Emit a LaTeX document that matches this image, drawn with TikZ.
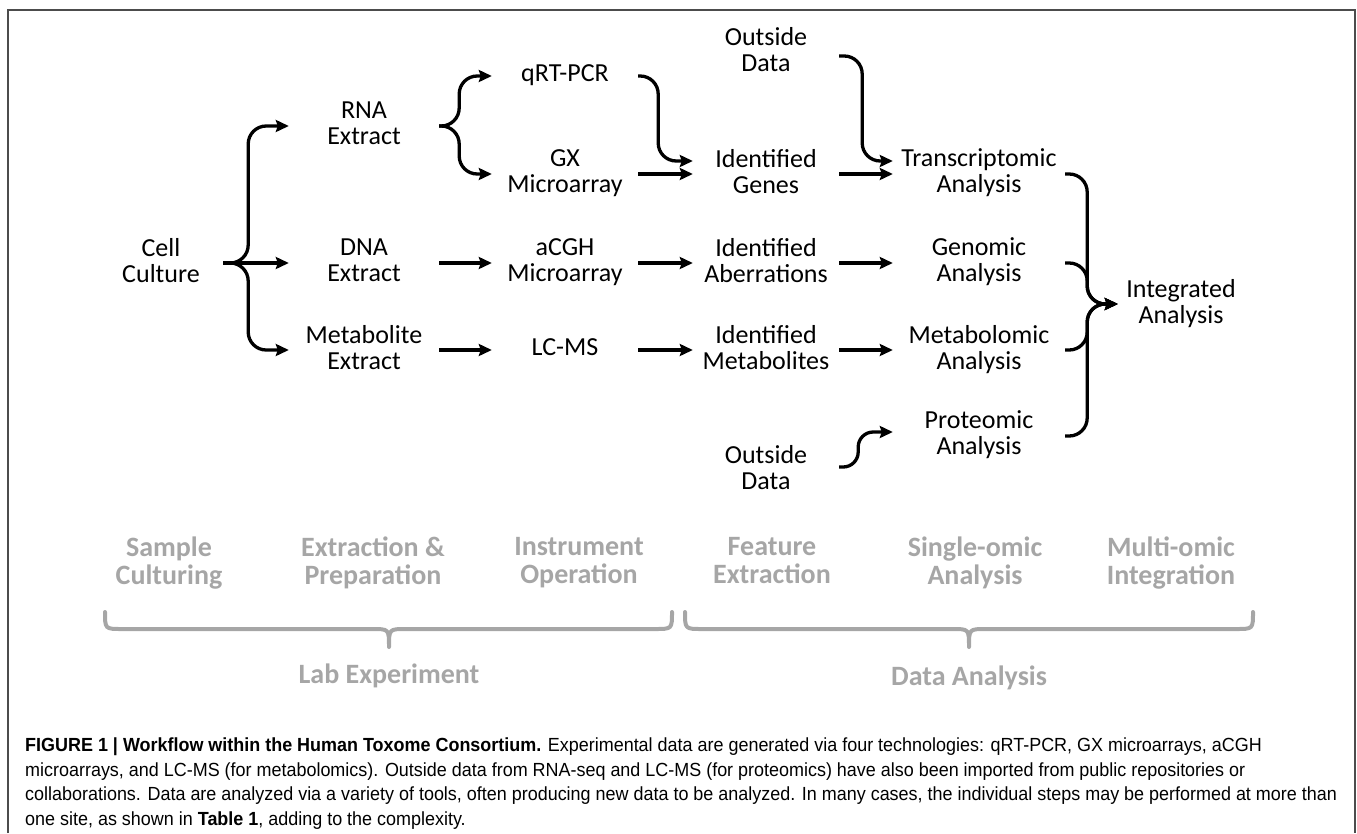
\documentclass[tikz,border=0pt]{standalone}
\usepackage{fontspec}
\setmainfont{Carlito}
\newfontfamily\capfont[FakeStretch=0.945]{Liberation Sans}
\usetikzlibrary{arrows.meta}
\definecolor{labgray}{RGB}{166,166,166}
\tikzset{
  box/.style={font=\fontsize{26}{26}\selectfont, align=center, inner sep=0pt, minimum width=146pt, text depth=6pt},
  arr/.style={line width=3.3pt, -{Stealth[length=13pt,width=12pt,inset=2pt]}},
  phase/.style={font=\fontsize{28}{28}\selectfont\bfseries, text=labgray, align=center, inner sep=0pt, text depth=7pt},
  curly/.style={draw=labgray, line width=4pt, line cap=round, line join=round},
  captxt/.style={font=\capfont\fontsize{19}{19}\selectfont, anchor=base west, inner sep=0pt}
}
\begin{document}
\begin{tikzpicture}[x=1pt,y=-1pt]
\useasboundingbox (0,0) rectangle (1357,833);
% frame
\draw[black!70, line width=2pt] (8,833) -- (8,10) -- (1355,10) -- (1355,833);

% lab side
\node[box, minimum width=124pt] (cell) at (161,263) {Cell\\Culture};
\node[box, minimum width=150pt] (rna) at (364,126) {RNA\\Extract};
\node[box, minimum width=150pt] (dna) at (364,263) {DNA\\Extract};
\node[box, minimum width=150pt] (met) at (364,350) {Metabolite\\Extract};
\node[box] (qrt) at (565,76) {qRT-PCR};
\node[box] (gx) at (565,174) {GX\\Microarray};
\node[box] (acgh) at (565,263) {aCGH\\Microarray};
\node[box] (lcms) at (565,350) {LC-MS};

% data side
\node[box] (outa) at (766,52) {Outside\\Data};
\node[box] (genes) at (766,174) {Identified\\Genes};
\node[box] (aberr) at (766,263) {Identified\\Aberrations};
\node[box] (metab) at (766,350) {Identified\\Metabolites};
\node[box] (outb) at (766,470) {Outside\\Data};
\node[box, minimum width=172pt] (trans) at (979,174) {Transcriptomic\\Analysis};
\node[box, minimum width=172pt] (geno) at (979,263) {Genomic\\Analysis};
\node[box, minimum width=172pt] (metabo) at (979,350) {Metabolomic\\Analysis};
\node[box, minimum width=172pt] (prot) at (979,436) {Proteomic\\Analysis};
\node[box, minimum width=126pt] (integ) at (1181,304) {Integrated\\Analysis};

% arrows
\draw[arr, rounded corners=18pt] (cell.east) -- ++(25,0) |- (rna.west);
\draw[arr] (cell.east) -- (dna.west);
\draw[arr, rounded corners=18pt] (cell.east) -- ++(25,0) |- (met.west);
\draw[arr, rounded corners=18pt] (rna.east) -- ++(20,0) |- (qrt.west);
\draw[arr, rounded corners=18pt] (rna.east) -- ++(20,0) |- (gx.west);
\draw[arr] (dna.east) -- (acgh.west);
\draw[arr] (met.east) -- (lcms.west);
\draw[arr, rounded corners=18pt] (qrt.east) -- ++(20,0) |- ([yshift=13pt]genes.west);
\draw[arr] (gx.east) -- (genes.west);
\draw[arr] (acgh.east) -- (aberr.west);
\draw[arr] (lcms.east) -- (metab.west);
\draw[arr, rounded corners=18pt] ([yshift=-4pt]outa.east) -- ++(23,0) |- ([yshift=13pt]trans.west);
\draw[arr] (genes.east) -- (trans.west);
\draw[arr] (aberr.east) -- (geno.west);
\draw[arr] (metab.east) -- (metabo.west);
\draw[arr, rounded corners=15pt] ([yshift=3pt]outb.east) -- ++(19,0) |- ([yshift=4pt]prot.west);
\draw[arr, rounded corners=18pt] (trans.east) -- ++(22,0) |- (integ.west);
\draw[arr, rounded corners=18pt] (geno.east) -- ++(22,0) |- (integ.west);
\draw[arr, rounded corners=18pt] (metabo.east) -- ++(22,0) |- (integ.west);
\draw[arr, rounded corners=18pt] (prot.east) -- ++(22,0) |- (integ.west);

% phases
\node[phase] (sc) at (169,564) {Sample\\Culturing};
\node[phase] (ep) at (373,564) {Extraction \&\\Preparation};
\node[phase] (io) at (579,564) {Instrument\\Operation};
\node[phase] (fe) at (772,564) {Feature\\Extraction};
\node[phase] (sa) at (975,564) {Single-omic\\Analysis};
\node[phase] (mi) at (1171,564) {Multi-omic\\Integration};

% braces
\draw[curly] (105,612) .. controls (105,629) .. (122,629) -- (372,629)
  .. controls (389,629) .. (389,647) .. controls (389,629) .. (406,629)
  -- (655,629) .. controls (672,629) .. (672,612);
\draw[curly] (685,612) .. controls (685,629) .. (702,629) -- (952,629)
  .. controls (969,629) .. (969,647) .. controls (969,629) .. (986,629)
  -- (1236,629) .. controls (1253,629) .. (1253,612);
\node[phase] (lab) at (389,677) {Lab Experiment};
\node[phase] (data) at (969,679) {Data Analysis};

% caption
\node[captxt] (cap1) at (25,751) {\textbf{FIGURE 1 | Workflow within the Human Toxome Consortium.} Experimental data are generated via four technologies: qRT-PCR, GX microarrays, aCGH};
\node[captxt] (cap2) at (25,776) {microarrays, and LC-MS (for metabolomics). Outside data from RNA-seq and LC-MS (for proteomics) have also been imported from public repositories or};
\node[captxt] (cap3) at (25,800) {collaborations. Data are analyzed via a variety of tools, often producing new data to be analyzed. In many cases, the individual steps may be performed at more than};
\node[captxt] (cap4) at (25,825) {one site, as shown in \textbf{Table 1}, adding to the complexity.};
\end{tikzpicture}
\end{document}
